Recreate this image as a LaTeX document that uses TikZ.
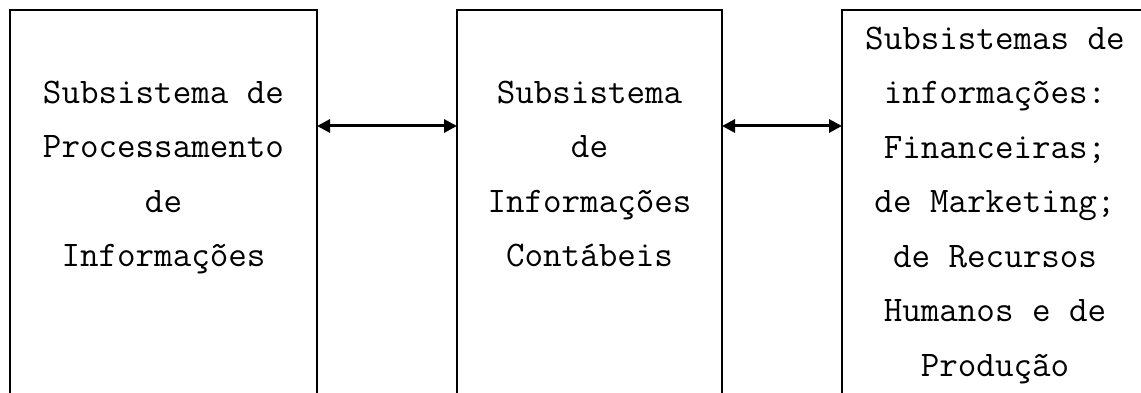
\documentclass[tikz,border=0pt]{standalone}
\usepackage{fontspec}
\usetikzlibrary{arrows.meta,positioning}
\definecolor{sysInk}{HTML}{000000}
\tikzset{
  every picture/.style={font=\ttfamily\fontsize{36}{54.5}\selectfont, text=sysInk},
  sys box/.style={align=center, inner sep=0pt, outer sep=0pt,
    execute at begin node=\strut, execute at end node=\strut},
  sys line/.style={draw=sysInk, line width=2pt},
  sys arrow/.style={{Triangle[length=13pt,width=13pt]}-{Triangle[length=13pt,width=13pt]},
    draw=sysInk, line width=3pt, line cap=butt}
}
\begin{document}
\begin{tikzpicture}[x=1pt,y=1pt]
  \useasboundingbox (0,0) rectangle (1141,393);
  \node[sys box, minimum width=307pt, minimum height=344.2pt] (proc) at (163.5,210.9)
    {Subsistema de\\Processamento\\de\\Informações};
  \node[sys box, minimum width=265pt, minimum height=344.2pt] (cont) at (589.5,210.9)
    {Subsistema\\de\\Informações\\Contábeis};
  \node[sys box, minimum width=306pt, minimum height=399.2pt] (info) at (995,183.4)
    {Subsistemas de\\informações:\\Financeiras;\\de Marketing;\\de Recursos\\Humanos e de\\Produção};
  % open boxes, cut by the page bottom
  \draw[sys line] ([yshift=-80pt]proc.south west) |- (proc.north east) -- ([yshift=-80pt]proc.south east);
  \draw[sys line] ([yshift=-80pt]cont.south west) |- (cont.north east) -- ([yshift=-80pt]cont.south east);
  \draw[sys line] ([yshift=-80pt]info.south west) |- (info.north east) -- ([yshift=-80pt]info.south east);
  \draw[sys arrow] ([yshift=56.1pt]proc.east) -- ([yshift=56.1pt]cont.west);
  \draw[sys arrow] ([yshift=56.1pt]cont.east) -- ([yshift=83.6pt]info.west);
\end{tikzpicture}
\end{document}
